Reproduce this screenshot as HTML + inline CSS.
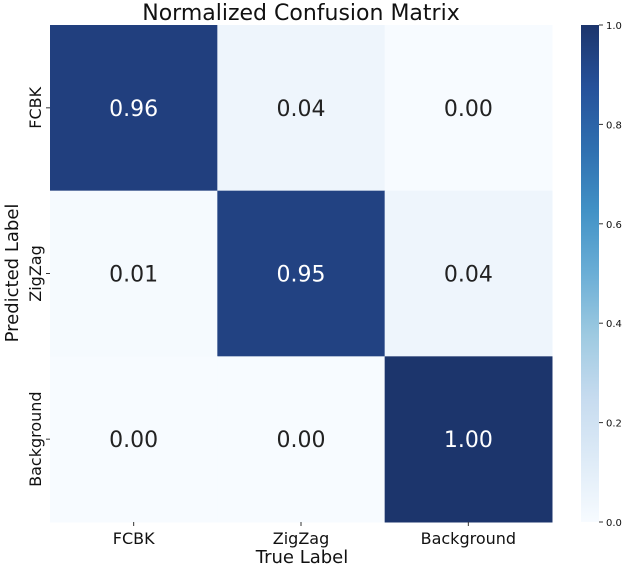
<!DOCTYPE html>
<html><head><meta charset="utf-8"><style>
body{margin:0;background:#fff;font-family:"DejaVu Sans","Liberation Sans",sans-serif}
</style></head><body>
<svg width="632" height="569" xmlns="http://www.w3.org/2000/svg" font-family="DejaVu Sans, Liberation Sans, sans-serif">
<defs>
<linearGradient id="cb" x1="0" y1="1" x2="0" y2="0">
<stop offset="0" stop-color="#f7fbff"/><stop offset="0.125" stop-color="#deebf7"/>
<stop offset="0.25" stop-color="#c6dbef"/><stop offset="0.375" stop-color="#9ecae1"/>
<stop offset="0.5" stop-color="#6baed6"/><stop offset="0.625" stop-color="#4292c6"/>
<stop offset="0.75" stop-color="#2f6fb0"/><stop offset="0.875" stop-color="#26519a"/>
<stop offset="1" stop-color="#1c356c"/>
</linearGradient>
</defs>
<text x="301" y="20" font-size="22" text-anchor="middle" fill="#111">Normalized Confusion Matrix</text>
<g id="cells"></g>
<rect x="581" y="25" width="18" height="497" fill="url(#cb)"/>
<g id="cbticks"></g>
<text x="302" y="563" font-size="18" text-anchor="middle" fill="#111">True Label</text>
<text transform="translate(18,273) rotate(-90)" font-size="18" text-anchor="middle" fill="#111">Predicted Label</text>
</svg>
<script>
const categories=["FCBK","ZigZag","Background"];
const row0=[0.96,0.04,0.00];
const row1=[0.01,0.95,0.04];
const row2=[0.00,0.00,1.00];
const matrix=[row0,row1,row2];
const cbTicks=[0,0.2,0.4,0.6,0.8,1.0];
const NS="http://www.w3.org/2000/svg";
const L=50,T=25,W=502,H=497;
const cw=W/3,ch=H/3;
function colorOf(v){
 const stops=[[0,[247,251,255]],[0.04,[238,245,252]],[0.125,[222,235,247]],[0.25,[198,219,239]],[0.375,[158,202,225]],[0.5,[107,174,214]],[0.625,[66,146,198]],[0.75,[47,111,176]],[0.875,[38,81,154]],[0.95,[34,66,130]],[1,[28,53,108]]];
 for(let i=1;i<stops.length;i++){if(v<=stops[i][0]){const a=stops[i-1],b=stops[i];const t=(v-a[0])/(b[0]-a[0]);const c=a[1].map((x,k)=>Math.round(x+(b[1][k]-x)*t));return `rgb(${c})`;}}
 return "rgb(28,53,108)";
}
const g=document.getElementById('cells');
matrix.forEach((row,r)=>row.forEach((v,c)=>{
 const rect=document.createElementNS(NS,'rect');
 rect.setAttribute('x',L+c*cw);rect.setAttribute('y',T+r*ch);
 rect.setAttribute('width',cw+0.5);rect.setAttribute('height',ch+0.5);
 rect.setAttribute('fill',colorOf(v));
 
 
 g.appendChild(rect);
 const t=document.createElementNS(NS,'text');
 t.setAttribute('x',L+c*cw+cw/2);t.setAttribute('y',T+r*ch+ch/2+8);
 t.setAttribute('font-size','22');t.setAttribute('text-anchor','middle');
 t.setAttribute('fill',v>0.5?'#fff':'#222');
 t.textContent=v.toFixed(2);
 
 
 g.appendChild(t);
}));
categories.forEach((name,i)=>{
 const xt=document.createElementNS(NS,'text');
 xt.setAttribute('x',L+i*cw+cw/2);xt.setAttribute('y',544);
 xt.setAttribute('font-size','16');xt.setAttribute('text-anchor','middle');xt.setAttribute('fill','#111');
 xt.textContent=name;
 
 
 g.appendChild(xt);
 const xl=document.createElementNS(NS,'line');
 xl.setAttribute('x1',L+i*cw+cw/2);xl.setAttribute('x2',L+i*cw+cw/2);xl.setAttribute('y1',522);xl.setAttribute('y2',526);xl.setAttribute('stroke','#333');
 
 
 g.appendChild(xl);
 const yt=document.createElementNS(NS,'text');
 const cy=T+i*ch+ch/2;
 yt.setAttribute('transform',`translate(41,${cy}) rotate(-90)`);
 yt.setAttribute('font-size','16');yt.setAttribute('text-anchor','middle');yt.setAttribute('fill','#111');
 yt.textContent=name;
 
 
 g.appendChild(yt);
 const yl=document.createElementNS(NS,'line');
 yl.setAttribute('x1',46);yl.setAttribute('x2',50);yl.setAttribute('y1',cy);yl.setAttribute('y2',cy);yl.setAttribute('stroke','#333');
 
 
 g.appendChild(yl);
});
const cg=document.getElementById('cbticks');
cbTicks.forEach(v=>{
 const y=T+H-v*H;
 const l=document.createElementNS(NS,'line');
 l.setAttribute('x1',599);l.setAttribute('x2',603);l.setAttribute('y1',y);l.setAttribute('y2',y);l.setAttribute('stroke','#333');
 
 
 cg.appendChild(l);
 const t=document.createElementNS(NS,'text');
 t.setAttribute('x',606);t.setAttribute('y',y+4);t.setAttribute('font-size','10');t.setAttribute('fill','#111');
 t.textContent=v.toFixed(1);
 
 
 cg.appendChild(t);
});
</script>
</body></html>
